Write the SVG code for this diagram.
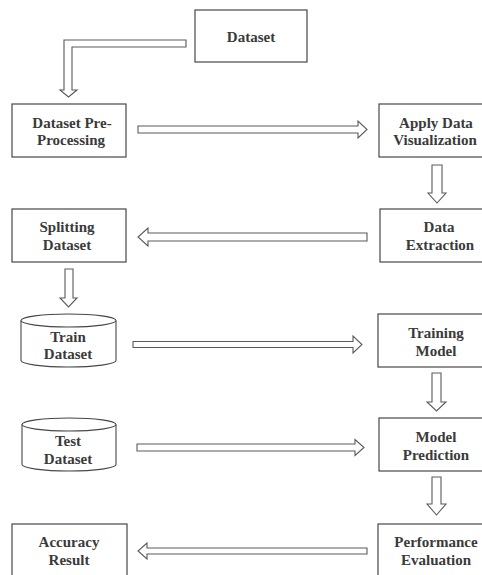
<svg xmlns="http://www.w3.org/2000/svg" width="482" height="575" viewBox="0 0 482 575">
<style>
.box{fill:#fff;stroke:#474747;stroke-width:1.2}
.cyl{fill:#fff;stroke:#474747;stroke-width:1.1}
.arr{fill:#fff;stroke:#5a5a5a;stroke-width:1.1;stroke-linejoin:miter}
text{font-family:"Liberation Serif","Times New Roman",serif;font-weight:bold;font-size:15px;fill:#3a3a3a;text-anchor:middle}
</style>
<rect width="482" height="575" fill="#fff"/>
<g id="connectors">
<path class="arr" d="M186,40 H64 V90 H60 L68.5,97 L77,90 H72 V47 H186 Z"/>
<path class="arr" d="M138,126 H358 V121 L367,129.5 L358,138 V133 H138 Z"/>
<path class="arr" d="M432,165 H442 V193 H446 L437,203 L428,193 H432 Z"/>
<path class="arr" d="M367,233 H148 V228 L138,237 L148,246 V241 H367 Z"/>
<path class="arr" d="M65,269 H73 V298 H77 L68.5,307 L60,298 H65 Z"/>
<path class="arr" d="M133,341.5 H353 V336 L362,344.5 L353,353 V347.5 H133 Z"/>
<path class="arr" d="M432,373 H441 V402 H446 L436.5,411 L427,402 H432 Z"/>
<path class="arr" d="M137,444 H355 V439.5 L364,447.5 L355,455.5 V451 H137 Z"/>
<path class="arr" d="M432,477 H441 V504 H446 L436.5,515 L427,504 H432 Z"/>
<path class="arr" d="M367,548 H147 V543 L138,551 L147,559 V554 H367 Z"/>
</g>
<g id="dataset">
<rect class="box" x="195" y="10" width="112" height="52"/>
<text x="251" y="42">Dataset</text>
</g>
<g id="preprocessing">
<rect class="box" x="12" y="104" width="114" height="53"/>
<text x="72" y="128">Dataset Pre-</text>
<text x="71" y="145">Processing</text>
</g>
<g id="visualization">
<rect class="box" x="379" y="104" width="106" height="53"/>
<text x="436" y="128">Apply Data</text>
<text x="435" y="145">Visualization</text>
</g>
<g id="splitting">
<rect class="box" x="12" y="209" width="114" height="53"/>
<text x="67" y="232">Splitting</text>
<text x="67" y="250">Dataset</text>
</g>
<g id="extraction">
<rect class="box" x="380" y="209" width="105" height="53"/>
<text x="439" y="232">Data</text>
<text x="440" y="250">Extraction</text>
</g>
<g id="train">
<path class="cyl" d="M21,320.5 V360.5 A47.5,6.5 0 0 0 116,360.5 V320.5"/>
<ellipse class="cyl" cx="68.5" cy="320.5" rx="47.5" ry="6.5"/>
<text x="68" y="342">Train</text>
<text x="68" y="359">Dataset</text>
</g>
<g id="training">
<rect class="box" x="378" y="314" width="107" height="53"/>
<text x="436" y="338">Training</text>
<text x="436" y="356">Model</text>
</g>
<g id="test">
<path class="cyl" d="M22,424.5 V464.5 A47,6.5 0 0 0 116,464.5 V424.5"/>
<ellipse class="cyl" cx="69" cy="424.5" rx="47" ry="6.5"/>
<text x="68" y="446">Test</text>
<text x="68" y="464">Dataset</text>
</g>
<g id="prediction">
<rect class="box" x="379" y="418" width="106" height="53"/>
<text x="436" y="442">Model</text>
<text x="436" y="460">Prediction</text>
</g>
<g id="accuracy">
<rect class="box" x="12" y="524" width="115" height="62"/>
<text x="69" y="547">Accuracy</text>
<text x="69" y="565">Result</text>
</g>
<g id="performance">
<rect class="box" x="378" y="524" width="107" height="62"/>
<text x="436" y="547">Performance</text>
<text x="436" y="565">Evaluation</text>
</g>
</svg>
